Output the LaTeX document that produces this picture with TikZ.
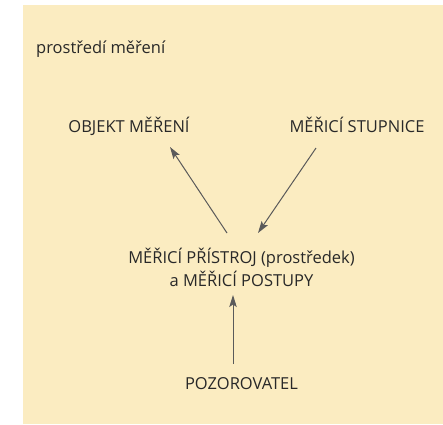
\documentclass[tikz,border=0pt]{standalone}
\usepackage{fontspec}
\setmainfont{Open Sans}
\usetikzlibrary{arrows.meta}
\definecolor{bgyellow}{RGB}{251,236,193}
\definecolor{txtgray}{RGB}{40,40,40}
\definecolor{arrgray}{RGB}{90,90,90}
\tikzset{
  lbl/.style={inner sep=0pt, anchor=base, text=txtgray, font=\fontsize{16.5}{23}\selectfont},
  arr/.style={draw=arrgray, line width=1pt, -{Stealth[length=12pt,width=7.5pt,inset=2.5pt]}}
}
\begin{document}
\begin{tikzpicture}[x=1pt,y=-1pt]
\useasboundingbox (0,0) rectangle (443,424);
\fill[bgyellow] (23,5) rectangle (443,424);
\node[lbl, anchor=base west] (env) at (36,53) {prostředí měření};
\node[lbl] (obj) at (129,132) {OBJEKT MĚŘENÍ};
\node[lbl] (scale) at (357,132) {MĚŘICÍ STUPNICE};
\node[lbl, align=center] (inst) at (241.5,286) {MĚŘICÍ PŘÍSTROJ (prostředek)\\a MĚŘICÍ POSTUPY};
\node[lbl] (obs) at (241.5,389) {POZOROVATEL};
\coordinate (a1s) at (227,233);
\coordinate (a1e) at (170,147);
\coordinate (a2s) at (316,148);
\coordinate (a2e) at (258,233);
\coordinate (a3s) at (233,364);
\coordinate (a3e) at (233,295);
\draw[arr] (a1s) -- (a1e);
\draw[arr] (a2s) -- (a2e);
\draw[arr] (a3s) -- (a3e);
\end{tikzpicture}
\end{document}
